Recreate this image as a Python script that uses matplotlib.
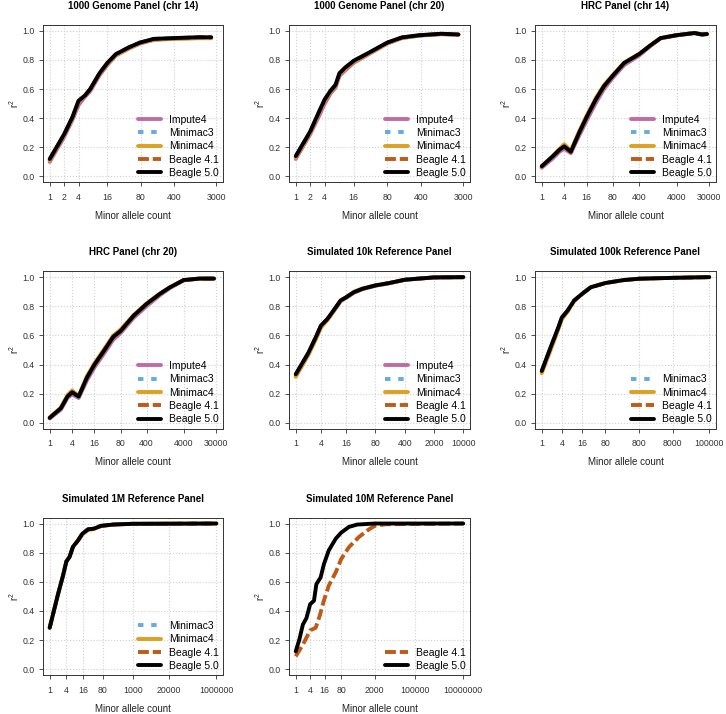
import numpy as np
import matplotlib
matplotlib.use("Agg")
import matplotlib.pyplot as plt

plt.rcParams['font.family'] = ['Liberation Sans', 'DejaVu Sans']
plt.rcParams['mathtext.default'] = 'regular'

# ---- data ----
methods = ['Impute4', 'Minimac3', 'Minimac4', 'Beagle 4.1', 'Beagle 5.0']

titles = ['1000 Genome Panel (chr 14)', '1000 Genome Panel (chr 20)',
          'HRC Panel (chr 14)', 'HRC Panel (chr 20)',
          'Simulated 10k Reference Panel', 'Simulated 100k Reference Panel',
          'Simulated 1M Reference Panel', 'Simulated 10M Reference Panel']

xticks_g = [1, 2, 4, 16, 80, 400, 3000]
xticks_hrc = [1, 4, 16, 80, 400, 4000, 30000]
xticks_10k = [1, 4, 16, 80, 400, 2000, 10000]
xticks_100k = [1, 4, 16, 80, 800, 8000, 100000]
xticks_1m = [1, 4, 16, 80, 1000, 20000, 1000000]
xticks_10m = [1, 4, 16, 80, 2000, 100000, 10000000]

# 1000 Genomes chr14
g14_mac = [1, 2, 3, 4, 5.4, 7, 11, 16, 24, 45, 77, 150, 375, 1260, 2350]
g14_impute4 = [0.10, 0.27, 0.39, 0.49, 0.545, 0.585, 0.695, 0.765, 0.83, 0.878, 0.913, 0.938, 0.946, 0.951, 0.951]
g14_minimac3 = [0.11, 0.28, 0.40, 0.51, 0.55, 0.595, 0.705, 0.775, 0.835, 0.884, 0.917, 0.942, 0.948, 0.954, 0.954]
g14_minimac4 = [0.11, 0.285, 0.405, 0.515, 0.55, 0.60, 0.705, 0.772, 0.832, 0.882, 0.915, 0.94, 0.944, 0.949, 0.949]
g14_beagle41 = [0.115, 0.285, 0.405, 0.515, 0.552, 0.598, 0.708, 0.778, 0.838, 0.886, 0.919, 0.944, 0.949, 0.955, 0.955]
g14_beagle50 = [0.12, 0.29, 0.41, 0.52, 0.555, 0.60, 0.71, 0.78, 0.84, 0.887, 0.92, 0.945, 0.95, 0.956, 0.956]

# 1000 Genomes chr20
g20_mac = [1, 2, 3, 4, 5.3, 6.7, 8.1, 10.8, 16, 33, 80, 160, 370, 1060, 2380]
g20_impute4 = [0.12, 0.29, 0.41, 0.50, 0.57, 0.61, 0.69, 0.73, 0.78, 0.84, 0.913, 0.95, 0.967, 0.977, 0.973]
g20_minimac3 = [0.13, 0.30, 0.43, 0.52, 0.58, 0.62, 0.70, 0.74, 0.79, 0.846, 0.917, 0.953, 0.969, 0.979, 0.974]
g20_minimac4 = [0.13, 0.30, 0.43, 0.52, 0.58, 0.62, 0.70, 0.74, 0.787, 0.843, 0.915, 0.951, 0.968, 0.978, 0.973]
g20_beagle41 = [0.135, 0.305, 0.435, 0.525, 0.585, 0.625, 0.705, 0.745, 0.792, 0.848, 0.918, 0.954, 0.969, 0.979, 0.974]
g20_beagle50 = [0.14, 0.31, 0.44, 0.53, 0.59, 0.63, 0.71, 0.75, 0.795, 0.85, 0.92, 0.955, 0.97, 0.98, 0.975]

# HRC chr14
h14_mac = [1, 2, 3, 4, 6, 10, 16, 28, 46, 78, 160, 400, 800, 1500, 4000, 12000, 19000, 26000]
h14_impute4 = [0.06, 0.125, 0.17, 0.19, 0.16, 0.28, 0.385, 0.505, 0.60, 0.675, 0.765, 0.83, 0.895, 0.948, 0.968, 0.984, 0.974, 0.977]
h14_minimac3 = [0.065, 0.135, 0.18, 0.205, 0.168, 0.295, 0.405, 0.525, 0.615, 0.685, 0.775, 0.838, 0.899, 0.95, 0.97, 0.985, 0.975, 0.978]
h14_minimac4 = [0.068, 0.142, 0.19, 0.222, 0.178, 0.31, 0.42, 0.54, 0.628, 0.695, 0.782, 0.842, 0.90, 0.95, 0.97, 0.985, 0.975, 0.978]
h14_beagle41 = [0.068, 0.138, 0.183, 0.205, 0.17, 0.298, 0.408, 0.528, 0.618, 0.688, 0.778, 0.839, 0.90, 0.95, 0.97, 0.985, 0.975, 0.978]
h14_beagle50 = [0.07, 0.14, 0.184, 0.207, 0.17, 0.30, 0.41, 0.53, 0.62, 0.69, 0.78, 0.84, 0.90, 0.95, 0.97, 0.985, 0.975, 0.978]

# HRC chr20
h20_mac = [1, 2, 3, 4, 6, 10, 16, 28, 51, 80, 180, 400, 910, 1700, 4000, 10600, 26000]
h20_impute4 = [0.03, 0.09, 0.17, 0.195, 0.17, 0.29, 0.38, 0.47, 0.57, 0.615, 0.72, 0.80, 0.875, 0.925, 0.978, 0.99, 0.99]
h20_minimac3 = [0.032, 0.097, 0.176, 0.205, 0.176, 0.305, 0.395, 0.485, 0.585, 0.625, 0.73, 0.812, 0.882, 0.928, 0.979, 0.99, 0.99]
h20_minimac4 = [0.035, 0.105, 0.19, 0.222, 0.185, 0.32, 0.41, 0.50, 0.60, 0.64, 0.74, 0.82, 0.887, 0.93, 0.98, 0.99, 0.99]
h20_beagle41 = [0.033, 0.099, 0.178, 0.208, 0.178, 0.308, 0.398, 0.488, 0.588, 0.628, 0.733, 0.814, 0.884, 0.929, 0.98, 0.99, 0.99]
h20_beagle50 = [0.034, 0.10, 0.18, 0.21, 0.18, 0.31, 0.40, 0.49, 0.59, 0.63, 0.735, 0.816, 0.885, 0.93, 0.98, 0.99, 0.99]

# simulated 10k
s10k_mac = [1, 2, 3, 4, 5.7, 7.5, 11.8, 16, 24.6, 39, 80, 167, 400, 870, 2000, 10000]
s10k_impute4 = [0.32, 0.47, 0.58, 0.665, 0.71, 0.755, 0.835, 0.858, 0.893, 0.917, 0.941, 0.957, 0.981, 0.99, 0.997, 0.999]
s10k_minimac3 = [0.325, 0.475, 0.58, 0.66, 0.708, 0.756, 0.836, 0.859, 0.895, 0.918, 0.942, 0.958, 0.981, 0.99, 0.997, 0.999]
s10k_minimac4 = [0.315, 0.465, 0.57, 0.652, 0.705, 0.752, 0.835, 0.86, 0.9, 0.922, 0.944, 0.959, 0.982, 0.99, 0.998, 1.0]
s10k_beagle41 = [0.33, 0.478, 0.584, 0.665, 0.711, 0.758, 0.838, 0.861, 0.896, 0.919, 0.943, 0.959, 0.982, 0.99, 0.998, 1.0]
s10k_beagle50 = [0.333, 0.48, 0.586, 0.667, 0.713, 0.76, 0.84, 0.862, 0.897, 0.92, 0.943, 0.959, 0.982, 0.99, 0.998, 1.0]

# simulated 100k
s100k_mac = [1, 2, 3, 4, 5.9, 9.3, 16, 29, 81, 285, 810, 8000, 100000]
s100k_minimac3 = [0.35, 0.535, 0.64, 0.72, 0.768, 0.838, 0.884, 0.93, 0.96, 0.98, 0.989, 0.995, 1.0]
s100k_minimac4 = [0.34, 0.52, 0.63, 0.71, 0.762, 0.836, 0.884, 0.932, 0.96, 0.98, 0.989, 0.995, 1.0]
s100k_beagle41 = [0.35, 0.535, 0.64, 0.72, 0.768, 0.838, 0.884, 0.93, 0.96, 0.98, 0.989, 0.995, 1.0]
s100k_beagle50 = [0.356, 0.54, 0.644, 0.724, 0.77, 0.84, 0.885, 0.93, 0.96, 0.98, 0.989, 0.995, 1.0]

# simulated 1M
s1m_mac = [1, 2, 3, 4, 5.2, 6.9, 10.6, 15, 24, 39, 70, 190, 930, 1000000]
s1m_minimac3 = [0.284, 0.515, 0.64, 0.74, 0.77, 0.84, 0.885, 0.93, 0.96, 0.965, 0.984, 0.993, 0.998, 1.0]
s1m_minimac4 = [0.284, 0.515, 0.64, 0.742, 0.775, 0.842, 0.885, 0.925, 0.955, 0.962, 0.982, 0.992, 0.998, 1.0]
s1m_beagle41 = [0.284, 0.515, 0.64, 0.74, 0.77, 0.84, 0.885, 0.93, 0.96, 0.965, 0.984, 0.993, 0.998, 1.0]
s1m_beagle50 = [0.284, 0.515, 0.64, 0.74, 0.77, 0.84, 0.885, 0.93, 0.96, 0.965, 0.984, 0.993, 0.998, 1.0]

# simulated 10M
s10m_mac = [1, 1.4, 2, 2.8, 4, 5.8, 7.3, 11, 15, 24, 47, 80, 168, 373, 2000, 10000000]
s10m_beagle50 = [0.122, 0.2, 0.307, 0.35, 0.446, 0.47, 0.584, 0.63, 0.72, 0.815, 0.896, 0.938, 0.977, 0.993, 1.0, 1.0]
s10m_mac41 = [1, 2, 4, 6.8, 10, 15, 24, 47, 80, 168, 440, 1150, 2000, 5600, 10000000]
s10m_beagle41 = [0.088, 0.169, 0.266, 0.284, 0.365, 0.47, 0.573, 0.665, 0.757, 0.838, 0.908, 0.96, 0.984, 0.995, 1.0]

panels = [
    (g14_mac, {'Impute4': g14_impute4, 'Minimac3': g14_minimac3, 'Minimac4': g14_minimac4,
               'Beagle 4.1': g14_beagle41, 'Beagle 5.0': g14_beagle50}, xticks_g),
    (g20_mac, {'Impute4': g20_impute4, 'Minimac3': g20_minimac3, 'Minimac4': g20_minimac4,
               'Beagle 4.1': g20_beagle41, 'Beagle 5.0': g20_beagle50}, xticks_g),
    (h14_mac, {'Impute4': h14_impute4, 'Minimac3': h14_minimac3, 'Minimac4': h14_minimac4,
               'Beagle 4.1': h14_beagle41, 'Beagle 5.0': h14_beagle50}, xticks_hrc),
    (h20_mac, {'Impute4': h20_impute4, 'Minimac3': h20_minimac3, 'Minimac4': h20_minimac4,
               'Beagle 4.1': h20_beagle41, 'Beagle 5.0': h20_beagle50}, xticks_hrc),
    (s10k_mac, {'Impute4': s10k_impute4, 'Minimac3': s10k_minimac3, 'Minimac4': s10k_minimac4,
                'Beagle 4.1': s10k_beagle41, 'Beagle 5.0': s10k_beagle50}, xticks_10k),
    (s100k_mac, {'Minimac3': s100k_minimac3, 'Minimac4': s100k_minimac4,
                 'Beagle 4.1': s100k_beagle41, 'Beagle 5.0': s100k_beagle50}, xticks_100k),
    (s1m_mac, {'Minimac3': s1m_minimac3, 'Minimac4': s1m_minimac4,
               'Beagle 4.1': s1m_beagle41, 'Beagle 5.0': s1m_beagle50}, xticks_1m),
    (None, {'Beagle 4.1': (s10m_mac41, s10m_beagle41), 'Beagle 5.0': (s10m_mac, s10m_beagle50)}, xticks_10m),
]

styles = {
    'Impute4': dict(color='#C06BA3', linestyle='-'),
    'Minimac3': dict(color='#64AAE3', dashes=(1.4, 2.0)),
    'Minimac4': dict(color='#DDA020', linestyle='-'),
    'Beagle 4.1': dict(color='#BF5A18', dashes=(2.8, 1.0)),
    'Beagle 5.0': dict(color='black', linestyle='-'),
}

# ---- layout (pixel boxes of each plot region) ----
W, H = 726, 714
col_left = [43, 289, 535]
col_w = [180, 181, 181]
row_top = [25, 271.3, 517.7]
ax_h = 157.3

fig = plt.figure(figsize=(W / 100, H / 100), dpi=100)
fig.patch.set_facecolor('white')

for i, (mac, series, xt) in enumerate(panels):
    r, c = divmod(i, 3)
    rect = [col_left[c] / W, 1 - (row_top[r] + ax_h) / H, col_w[c] / W, ax_h / H]
    ax = fig.add_axes(rect)
    ax.set_xscale('log')

    for m in methods:
        if m not in series:
            continue
        if mac is None:
            xs, ys = series[m]
        else:
            xs, ys = mac, series[m]
        ax.plot(xs, ys, label=m, linewidth=2.8, solid_capstyle='round',
                dash_capstyle='butt', solid_joinstyle='round', **styles[m])

    ext = 10 ** (0.04 * np.log10(xt[-1]))
    ax.set_xlim(1 / ext, xt[-1] * ext)
    ax.set_ylim(-0.04, 1.04)
    ax.set_xticks(xt)
    ax.set_xticklabels([str(v) for v in xt])
    ax.minorticks_off()
    ax.set_yticks([0, 0.2, 0.4, 0.6, 0.8, 1.0])
    ax.set_yticklabels(['0.0', '0.2', '0.4', '0.6', '0.8', '1.0'])
    ax.grid(True, color='#d0d0d0', linestyle=':', linewidth=0.8)
    ax.set_axisbelow(True)
    ax.tick_params(direction='out', length=3.2, width=0.6, labelsize=6.3,
                   colors='#333333')
    ax.tick_params(axis='x', pad=4.5)
    ax.tick_params(axis='y', pad=3)
    for s in ax.spines.values():
        s.set_linewidth(0.7)
        s.set_color('#333333')

    ax.set_title(titles[i], fontsize=7, fontweight='bold', pad=11.5)
    ax.set_xlabel('Minor allele count', fontsize=7, labelpad=6.5, color='#222222')
    ax.set_ylabel('r$^2$', fontsize=7, labelpad=0.5, color='#222222')

    ax.legend(loc='lower right', bbox_to_anchor=(1.0, 0.0), frameon=False,
              fontsize=7.5, handlelength=2.2, handletextpad=0.8,
              labelspacing=0.32, borderpad=0.3, borderaxespad=0.1)

fig.savefig('out.png', dpi=100)
